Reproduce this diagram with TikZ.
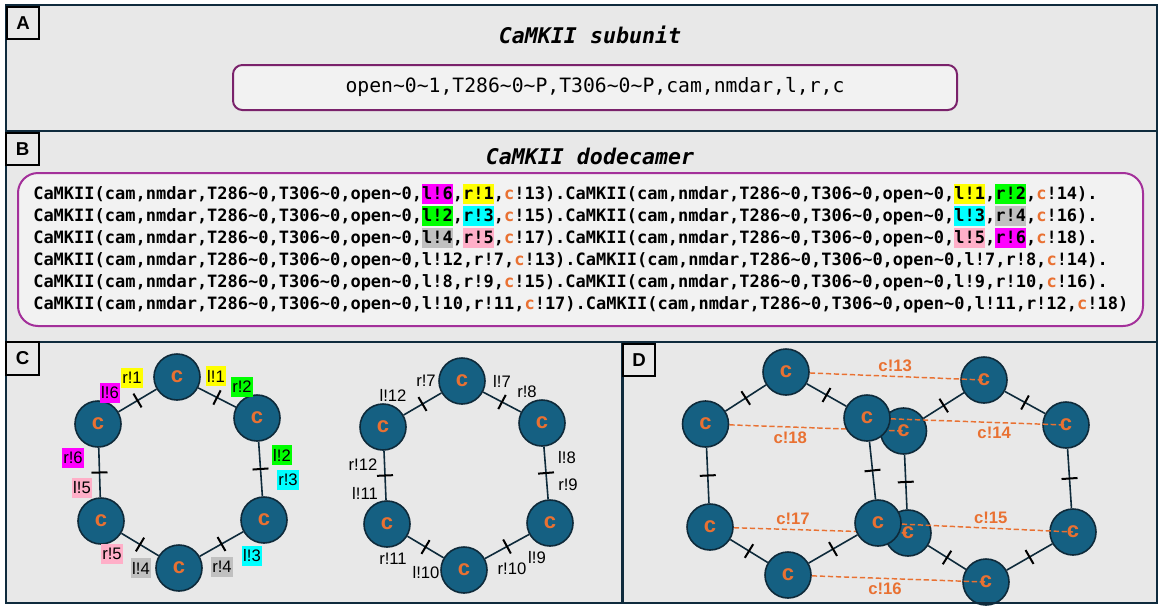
\documentclass[tikz,border=0pt]{standalone}
\usepackage{fontspec}
\newfontfamily\codefont{DejaVu Sans Mono}
\newfontfamily\labelfont{Liberation Sans}
\usetikzlibrary{decorations.markings}

\definecolor{framecol}{HTML}{0F2B3D}
\definecolor{panelbg}{HTML}{E8E8E8}
\definecolor{boxbg}{HTML}{F2F2F2}
\definecolor{subboxcol}{HTML}{7A226B}
\definecolor{dodboxcol}{HTML}{A3309A}
\definecolor{subfill}{HTML}{156082}
\definecolor{subedge}{HTML}{0E2A3A}
\definecolor{corange}{HTML}{E97132}
\definecolor{hlmag}{HTML}{FF00FF}
\definecolor{hlyel}{HTML}{FFFF00}
\definecolor{hlgrn}{HTML}{00FF00}
\definecolor{hlcya}{HTML}{00FFFF}
\definecolor{hlgry}{HTML}{C0C0C0}
\definecolor{hlpnk}{HTML}{FFAFC8}

\pgfdeclarelayer{back}
\pgfdeclarelayer{mid}
\pgfsetlayers{back,mid,main}

\newcommand{\tld}{\textasciitilde}
\newcommand{\hl}[2]{{\setlength{\fboxsep}{0pt}\colorbox{#1}{\rule[-3.6pt]{0pt}{14.5pt}#2}}}
\newcommand{\cc}{\textcolor{corange}{c}}
\newcommand{\camk}{CaMKII(cam,nmdar,T286\tld0,T306\tld0,open\tld0,}

\tikzset{
  panel/.style={draw=black, line width=1.5pt, fill=panelbg, minimum size=24.5pt, inner sep=0pt,
    font=\labelfont\bfseries\fontsize{14}{14}\selectfont},
  title/.style={font=\codefont\bfseries\itshape\fontsize{16.2}{18}\selectfont},
  subbox/.style={draw=subboxcol, line width=1.5pt, fill=boxbg, rounded corners=7pt,
    font=\codefont\fontsize{14.8}{16}\selectfont},
  dodbox/.style={draw=dodboxcol, line width=1.5pt, fill=boxbg, rounded corners=15pt},
  codetext/.style={align=left, inner sep=0pt, font=\codefont\bfseries\fontsize{12.75}{16.5}\selectfont},
  sub/.style={circle, fill=subfill, draw=subedge, line width=1.2pt, minimum size=34.5pt, inner sep=0pt,
    text=corange, font=\labelfont\bfseries\fontsize{16.5}{16.5}\selectfont},
  bond/.style={draw=subedge, line width=1.2pt, postaction={decorate},
    decoration={markings, mark=at position 0.5 with {\draw[black,line width=1.5pt] (0,-6pt) -- (0,6pt);}}},
  tag/.style={font=\labelfont\fontsize{12.5}{12.5}\selectfont, inner xsep=1pt, inner ysep=0pt, minimum height=15pt},
  cbond/.style={draw=corange, line width=1.1pt, dash pattern=on 4pt off 2pt},
  clabel/.style={text=corange, font=\labelfont\bfseries\fontsize{12.5}{12.5}\selectfont, inner sep=3pt},
}

\begin{document}
\begin{tikzpicture}[x=0.75pt,y=-0.75pt]
\useasboundingbox (0,0) rectangle (1166,607);

\begin{pgfonlayer}{back}
\fill[panelbg] (6,5) rectangle (1157,603);
\end{pgfonlayer}

% A: subunit
\node[title] (subtitle) at (590,35) {CaMKII subunit};
\node[subbox, minimum width=543pt, minimum height=33.75pt] (subspec) at (595,87.5)
  {open\tld0\tld1,T286\tld0\tld P,T306\tld0\tld P,cam,nmdar,l,r,c};

% B: dodecamer
\node[title] (dodtitle) at (590,156) {CaMKII dodecamer};
\node[dodbox, minimum width=843.75pt, minimum height=114.75pt] (dodspec) at (580.5,249.5) {};
\node[codetext, anchor=west] (dodtext) at (33,248.5) {%
\camk\hl{hlmag}{l!6},\hl{hlyel}{r!1},\cc!13).\camk\hl{hlyel}{l!1},\hl{hlgrn}{r!2},\cc!14).\\
\camk\hl{hlgrn}{l!2},\hl{hlcya}{r!3},\cc!15).\camk\hl{hlcya}{l!3},\hl{hlgry}{r!4},\cc!16).\\
\camk\hl{hlgry}{l!4},\hl{hlpnk}{r!5},\cc!17).\camk\hl{hlpnk}{l!5},\hl{hlmag}{r!6},\cc!18).\\
\camk l!12,r!7,\cc!13).\camk l!7,r!8,\cc!14).\\
\camk l!8,r!9,\cc!15).\camk l!9,r!10,\cc!16).\\
\camk l!10,r!11,\cc!17).\camk l!11,r!12,\cc!18)};

% C: two rings
\foreach \n/\x/\y in {1/177/377,2/257/418,3/264/520,4/179/568,5/101/521,6/98/424}
  \node[sub] (ca\n) at (\x,\y) {c};
\foreach \a/\b in {1/2,2/3,3/4,4/5,5/6,6/1}
  \draw[bond] (ca\a) -- (ca\b);
\foreach \txt/\col/\x/\y [count=\i] in {l!6/hlmag/110/393, r!1/hlyel/132/378, l!1/hlyel/216/376,
    r!2/hlgrn/242/387, l!2/hlgrn/282/455, r!3/hlcya/288/480, l!3/hlcya/252/556, r!4/hlgry/222/567,
    l!4/hlgry/141/568, r!5/hlpnk/112/554, l!5/hlpnk/82/488, r!6/hlmag/73/458}
  \node[tag, fill=\col] (cat\i) at (\x,\y) {\txt};

\foreach \n/\x/\y in {1/462/381,2/542/423,3/550/523,4/464/570,5/387/524,6/383/427}
  \node[sub] (cb\n) at (\x,\y) {c};
\foreach \a/\b in {1/2,2/3,3/4,4/5,5/6,6/1}
  \draw[bond] (cb\a) -- (cb\b);
\foreach \txt/\x/\y [count=\i] in {r!7/426/381, l!7/502/381, l!12/393/395, r!8/527/392,
    l!8/567/458, r!9/568/485, r!12/363/465, l!11/365/493, r!11/393/559, l!10/426/573,
    r!10/512/569, l!9/537/558}
  \node[tag] (cbt\i) at (\x,\y) {\txt};

% D: stacked rings
\begin{pgfonlayer}{back}
\foreach \n/\x/\y in {1/984/380,2/1066/425,3/1073/532,4/986/582,5/908/533,6/903.5/431}
  \node[sub] (db\n) at (\x,\y) {c};
\foreach \a/\b in {1/2,2/3,3/4,4/5,5/6,6/1}
  \draw[bond] (db\a) -- (db\b);
\end{pgfonlayer}

\foreach \n/\x/\y in {1/786/372,2/867/418,3/878/523,4/788/575,5/710/527,6/705.5/424}
  \node[sub] (da\n) at (\x,\y) {c};
\foreach \a/\b in {1/2,2/3,3/4,4/5,5/6,6/1}
  \draw[bond] (da\a) -- (da\b);

\begin{pgfonlayer}{mid}
\draw[cbond] (da1) -- (db1.center) node[clabel, pos=.49, above] (c13) {c!13};
\draw[cbond] (da2) -- (db2.center) node[clabel, pos=.59, below] (c14) {c!14};
\draw[cbond] (da3) -- (db3.center) node[clabel, pos=.52, above] (c15) {c!15};
\draw[cbond] (da4) -- (db4.center) node[clabel, pos=.42, below] (c16) {c!16};
\draw[cbond] (da5) -- (db5.center) node[clabel, pos=.34, above] (c17) {c!17};
\draw[cbond] (da6) -- (db6.center) node[clabel, pos=.35, below] (c18) {c!18};
\end{pgfonlayer}

% frame and panel letters
\draw[framecol, line width=1.75pt] (6,5) rectangle (1157,603)
  (6,131) -- (1157,131) (6,342) -- (1157,342) (622.5,342) -- (622.5,603);
\node[panel] (pa) at (23,23) {A};
\node[panel] (pb) at (22.5,149) {B};
\node[panel] (pc) at (22.5,358.5) {C};
\node[panel] (pd) at (639,360) {D};

\end{tikzpicture}
\end{document}
